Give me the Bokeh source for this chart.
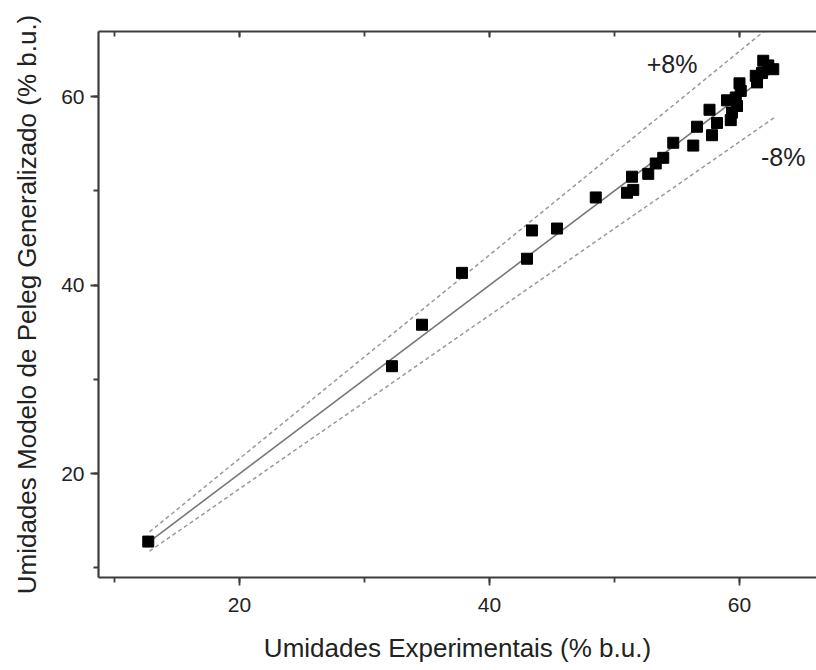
from bokeh.plotting import figure
from bokeh.models import LinearAxis, SingleIntervalTicker, Range1d, Label
from bokeh.embed import file_html
from bokeh.resources import INLINE

# Data
exp_x = [12.7, 32.2, 34.6, 37.8, 43.0, 43.4, 45.4, 48.5, 51.0, 51.5, 51.4, 52.7,
         53.3, 53.9, 54.7, 56.3, 56.6, 57.6, 57.8, 58.2, 59.0, 59.3, 59.4, 59.7,
         59.8, 60.0, 60.1, 61.3, 61.4, 61.9, 62.3, 62.7, 61.8]
model_y = [12.8, 31.4, 35.8, 41.3, 42.8, 45.8, 46.0, 49.3, 49.8, 50.1, 51.5, 51.8,
           52.9, 53.5, 55.1, 54.8, 56.8, 58.6, 55.9, 57.2, 59.6, 57.5, 58.3, 59.9,
           59.0, 61.4, 60.6, 62.2, 61.5, 63.8, 63.3, 62.9, 62.5]

line_span = [12.8, 62.8]          # extent of the reference lines
band = 0.08                        # +/- 8 %
x_ticks_interval = 20

upper = [v * (1 + band) for v in line_span]
lower = [v * (1 - band) for v in line_span]

FONT = "'Liberation Sans', Arial, sans-serif"
TXT = "#222222"
AX = "#3c3c3c"

p = figure(width=816, height=668,
           x_range=Range1d(8.72, 66.16), y_range=Range1d(8.99, 66.9),
           output_backend="svg", toolbar_location=None,
           x_axis_location=None, y_axis_location=None)
p.min_border_left = 98
p.min_border_right = 0
p.min_border_top = 31
p.min_border_bottom = 91
p.outline_line_color = None
p.outline_line_alpha = 0
p.xgrid.visible = False
p.ygrid.visible = False
p.background_fill_color = "white"
p.border_fill_color = "white"


def style_axis(ax, label):
    ax.axis_label = label
    ax.axis_label_text_font = FONT
    ax.axis_label_text_font_size = "26px"
    ax.axis_label_text_font_style = "normal"
    ax.axis_label_text_color = TXT
    ax.major_label_text_font = FONT
    ax.major_label_text_font_size = "21px"
    ax.major_label_text_color = TXT
    ax.axis_line_color = AX
    ax.axis_line_width = 2.2
    ax.major_tick_line_color = AX
    ax.minor_tick_line_color = AX
    ax.major_tick_line_width = 1.8
    ax.minor_tick_line_width = 1.8
    ax.major_tick_in = 0
    ax.major_tick_out = 8
    ax.minor_tick_in = 0
    ax.minor_tick_out = 5


xaxis = LinearAxis(ticker=SingleIntervalTicker(interval=x_ticks_interval, num_minor_ticks=2))
style_axis(xaxis, "Umidades Experimentais (% b.u.)")
xaxis.major_label_standoff = 12
xaxis.axis_label_standoff = 18
p.add_layout(xaxis, "below")

yaxis = LinearAxis(ticker=SingleIntervalTicker(interval=x_ticks_interval, num_minor_ticks=2))
style_axis(yaxis, "Umidades Modelo de Peleg Generalizado (% b.u.)")
yaxis.major_label_standoff = 6
yaxis.axis_label_standoff = 16
p.add_layout(yaxis, "left")

top = LinearAxis(ticker=SingleIntervalTicker(interval=x_ticks_interval, num_minor_ticks=2))
top.axis_line_color = AX
top.axis_line_width = 2.2
top.major_tick_line_color = AX
top.minor_tick_line_color = AX
top.major_tick_line_width = 1.8
top.minor_tick_line_width = 1.8
top.major_tick_in = 6
top.major_tick_out = 0
top.minor_tick_in = 5
top.minor_tick_out = 0
top.major_label_text_font_size = "0px"
top.major_label_text_color = None
top.major_label_standoff = 0
p.add_layout(top, "above")

# reference lines
p.line(line_span, line_span, line_color="#777777", line_width=1.6)
p.line(line_span, upper, line_color="#999999", line_width=1.5, line_dash="4 3")
p.line(line_span, lower, line_color="#999999", line_width=1.5, line_dash="4 3")

p.scatter(exp_x, model_y, marker="square", size=11, fill_color="black",
          line_color="black")

p.add_layout(Label(x=54.6, y=63.5, text="+8%", text_align="center",
                   text_baseline="middle", text_font=FONT,
                   text_font_size="25px", text_color=TXT))
p.add_layout(Label(x=63.5, y=53.6, text="-8%", text_align="center",
                   text_baseline="middle", text_font=FONT,
                   text_font_size="25px", text_color=TXT))

open("out.html", "w").write(file_html(p, INLINE))
